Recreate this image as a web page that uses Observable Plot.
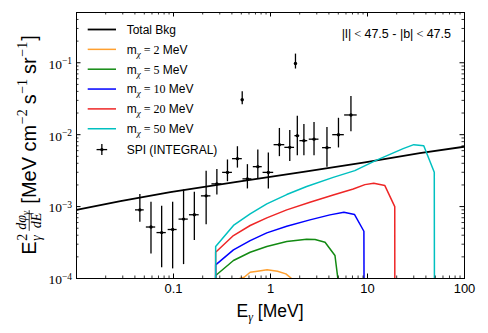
<!DOCTYPE html>
<html><head><meta charset="utf-8">
<script src="https://cdn.jsdelivr.net/npm/d3@7"></script>
<script src="https://cdn.jsdelivr.net/npm/@observablehq/plot@0.6"></script>
<style>
body{margin:0;background:#fff;}
#chart svg{display:block;}
</style>
</head><body><div id="chart"></div>
<script>
// ---------- data ----------
const bkgE = [0.01, 0.0284, 0.0927, 0.432, 2.27, 9.4, 34.6, 100];
const bkgF = [9.0e-4, 1.19e-3, 1.59e-3, 2.19e-3, 3.06e-3, 4.12e-3, 5.53e-3, 6.81e-3];

const m2E = [0.272, 0.433, 0.535, 0.617, 0.733, 0.923, 1.18, 1.44, 1.62, 1.70];
const m2F = [1e-7, 9.6e-5, 1.04e-4, 1.22e-4, 1.26e-4, 1.32e-4, 1.26e-4, 1.16e-4, 1.02e-4, 9.0e-5];

const m5E = [0.272, 0.272, 0.415, 0.617, 0.916, 1.47, 2.36, 2.88, 3.65, 4.62, 5.05];
const m5F = [1e-7, 1.1e-4, 1.78e-4, 2.32e-4, 2.78e-4, 3.26e-4, 3.52e-4, 3.48e-4, 3.19e-4, 2.09e-4, 8e-5];

const m10E = [0.272, 0.272, 0.415, 0.617, 0.916, 1.47, 2.55, 4.1, 5.71, 7.36, 9.18, 9.35];
const m10F = [1e-7, 1.55e-4, 2.5e-4, 3.37e-4, 4.31e-4, 5.33e-4, 6.53e-4, 7.67e-4, 8.34e-4, 7.74e-4, 4.54e-4, 1e-7];

const m20E = [0.272, 0.272, 0.415, 0.617, 0.916, 1.47, 2.55, 4.43, 7.13, 9.4, 11.6, 15.1, 19.1, 19.2];
const m20F = [1e-7, 2.32e-4, 3.96e-4, 5.46e-4, 6.97e-4, 9.0e-4, 1.15e-3, 1.45e-3, 1.76e-3, 2.02e-3, 2.11e-3, 1.96e-3, 1.0e-3, 1e-7];

const m50E = [0.272, 0.272, 0.415, 0.617, 0.916, 1.47, 2.36, 4.43, 7.4, 12.1, 23.3, 30.0, 38.0, 48.8, 49.3];
const m50F = [1e-7, 2.78e-4, 5.46e-4, 7.93e-4, 1.09e-3, 1.47e-3, 1.9e-3, 2.55e-3, 3.16e-3, 4.35e-3, 6.39e-3, 7.27e-3, 7.03e-3, 3.01e-3, 1e-7];

const spiE   = [0.045, 0.0586, 0.0755, 0.098, 0.127, 0.164, 0.217, 0.28, 0.36, 0.456, 0.511, 0.578, 0.74, 0.95, 1.235, 1.58, 1.809, 1.89, 2.21, 2.81, 3.82, 5.02, 6.75];
const spiElo = [0.0406, 0.0525, 0.0676, 0.0881, 0.114, 0.146, 0.194, 0.249, 0.321, 0.406, 0.5, 0.52, 0.665, 0.838, 1.089, 1.406, 1.78, 1.786, 2.01, 2.51, 3.44, 4.38, 5.81];
const spiEhi = [0.0499, 0.0655, 0.0843, 0.109, 0.142, 0.184, 0.243, 0.316, 0.405, 0.512, 0.522, 0.643, 0.822, 1.079, 1.403, 1.77, 1.84, 2.0, 2.42, 3.16, 4.24, 5.77, 7.83];
const spiF   = [9.0e-4, 5.2e-4, 4.35e-4, 4.8e-4, 6.7e-4, 7.7e-4, 1.41e-3, 2.07e-3, 2.99e-3, 4.64e-3, 0.0306, 2.43e-3, 3.59e-3, 2.99e-3, 7.26e-3, 6.66e-3, 0.0977, 9.69e-3, 8.26e-3, 8.66e-3, 6.6e-3, 0.01, 0.0188];
const spiFlo = [6.05e-4, 2.2e-4, 1.41e-4, 1.36e-4, 1.56e-4, 3.37e-4, 5.57e-4, 1.45e-3, 2.22e-3, 3.43e-3, 0.0261, 1.76e-3, 2.43e-3, 1.76e-3, 4.95e-3, 4.22e-3, 0.0818, 5.1e-3, 5.1e-3, 5.1e-3, 3.52e-3, 6.54e-3, 0.011];
const spiFhi = [1.47e-3, 1.15e-3, 1.01e-3, 1.15e-3, 1.7e-3, 1.58e-3, 3.09e-3, 3.27e-3, 4.45e-3, 6.8e-3, 0.0396, 3.83e-3, 6.13e-3, 5.57e-3, 0.0122, 0.0114, 0.132, 0.0181, 0.0138, 0.0148, 0.0126, 0.0169, 0.034];

const massLabels = ["2", "5", "10", "20", "50"];
const massColors = ["#ffa030", "#128a12", "#0000ff", "#ee2626", "#00c0c0"];

const xTickVals = [0.1, 1, 10, 100];
const xTickLabels = ["0.1", "1", "10", "100"];
const yTickVals = [1e-4, 1e-3, 1e-2, 1e-1];
const yTickExps = ["\u22124", "\u22123", "\u22122", "\u22121"];
const regionText = ["|l|", " < ", "47.5 - |b|", " < ", "47.5"];

// ---------- build rows ----------
const zip = (E, F) => E.map((e, i) => ({E: e, F: F[i]}));
const bkg = zip(bkgE, bkgF);
const dm = [zip(m2E, m2F), zip(m5E, m5F), zip(m10E, m10F), zip(m20E, m20F), zip(m50E, m50F)];
const spi = spiE.map((e, i) => ({E: e, Elo: spiElo[i], Ehi: spiEhi[i], F: spiF[i], Flo: spiFlo[i], Fhi: spiFhi[i]}));

const xMinor = [], yMinor = [];
for (let k = -2; k <= 1; k++) for (let m = 2; m <= 9; m++) xMinor.push(m * 10 ** k);
for (let k = -4; k <= -1; k++) for (let m = 2; m <= 9; m++) { const v = m * 10 ** k; if (v < 0.5) yMinor.push(v); }
const xMajor = [0.01, 0.1, 1, 10, 100];

const W = 488, H = 333, mt = 12, mr = 24, mb = 55, ml = 76;
const iw = W - ml - mr, ih = H - mt - mb;
const MAJ = 4.5, MIN = 2.5;

const chart = Plot.plot({
  width: W, height: H,
  marginTop: mt, marginRight: mr, marginBottom: mb, marginLeft: ml,
  style: {background: "#fff", color: "#000", fontFamily: "Liberation Sans", overflow: "visible"},
  x: {type: "log", domain: [0.01, 100], axis: null},
  y: {type: "log", domain: [1e-4, 0.5], axis: null},
  marks: [
    Plot.line(bkg, {x: "E", y: "F", stroke: "#000", strokeWidth: 1.8, clip: true}),
    ...dm.map((rows, i) => Plot.line(rows, {x: "E", y: "F", stroke: massColors[i], strokeWidth: 1.5, clip: true})),
    Plot.ruleX(spi, {x: "E", y1: "Flo", y2: "Fhi", stroke: "#000", strokeWidth: 1.3}),
    Plot.ruleY(spi, {y: "F", x1: "Elo", x2: "Ehi", stroke: "#000", strokeWidth: 1.3}),
    Plot.dot(spi, {x: "E", y: "F", r: 1.7, fill: "#000", stroke: "none"}),
    Plot.frame({stroke: "#000", strokeWidth: 1}),
    // inward ticks on all four sides
    Plot.tickX(xMajor, {x: d => d, insetTop: ih - MAJ, stroke: "#000", strokeWidth: 1}),
    Plot.tickX(xMajor, {x: d => d, insetBottom: ih - MAJ, stroke: "#000", strokeWidth: 1}),
    Plot.tickX(xMinor, {x: d => d, insetTop: ih - MIN, stroke: "#000", strokeWidth: 0.8}),
    Plot.tickX(xMinor, {x: d => d, insetBottom: ih - MIN, stroke: "#000", strokeWidth: 0.8}),
    Plot.tickY(yTickVals, {y: d => d, insetRight: iw - MAJ, stroke: "#000", strokeWidth: 1}),
    Plot.tickY(yTickVals, {y: d => d, insetLeft: iw - MAJ, stroke: "#000", strokeWidth: 1}),
    Plot.tickY(yMinor, {y: d => d, insetRight: iw - MIN, stroke: "#000", strokeWidth: 0.8}),
    Plot.tickY(yMinor, {y: d => d, insetLeft: iw - MIN, stroke: "#000", strokeWidth: 0.8}),
    Plot.axisX({anchor: "bottom", ticks: xTickVals, tickSize: 0, tickPadding: 5, label: null,
      tickFormat: d => xTickLabels[xTickVals.indexOf(d)], fontSize: 13, fontFamily: "Liberation Sans"}),
    Plot.axisY({anchor: "left", ticks: yTickVals, tickSize: 0, tickPadding: 4.5, label: null, dy: 1.5,
      tickFormat: d => yTickExps[yTickVals.indexOf(d)], fontSize: 13.5, fontFamily: "Liberation Serif"})
  ]
});
document.getElementById("chart").appendChild(chart);

const svg = d3.select(chart);
// y tick labels as 10^n
svg.selectAll('g[aria-label="y-axis tick label"] text').each(function () {
  const t = d3.select(this); const exp = t.text(); t.text("");
  t.append("tspan").text("10");
  t.append("tspan").attr("dy", "-0.5em").attr("font-size", "9.5px").text(exp);
});

const SANS = "Liberation Sans", SERIF = "Liberation Serif";

// x label
const xl = svg.append("text").attr("x", ml + iw / 2).attr("y", 316.5).attr("text-anchor", "middle")
  .attr("font-family", SANS).attr("font-size", 17.5).attr("fill", "#000");
xl.append("tspan").text("E");
xl.append("tspan").attr("font-family", SERIF).attr("font-style", "italic").attr("font-size", 12).attr("dy", 4).text("\u03b3");
xl.append("tspan").attr("dy", -4).text("\u00a0[MeV]");

// y label (rotated), laid out piece by piece
const yg = svg.append("g").attr("text-anchor", "start");
const inner = yg.append("g");
let u = 0;
function piece(str, x, y, font, size, italic) {
  const t = inner.append("text").attr("x", x).attr("y", y).attr("text-anchor", "start")
    .attr("font-family", font).attr("font-size", size).attr("fill", "#000").text(str);
  if (italic) t.attr("font-style", "italic");
  return t;
}
const len = t => t.node().getComputedTextLength();
const LS = 20, SS = 14;
u += len(piece("E", u, 0, SANS, LS));
const w2 = len(piece("2", u + 0.5, -8.5, SERIF, SS));
const wg = len(piece("\u03b3", u + 0.5, 5, SERIF, SS, true));
u += Math.max(w2, wg) + 3.5;
// fraction d phi_gamma / dE
const numStart = u;
let nw = len(piece("d\u03c6", u + 1, -9.5, SERIF, 14, true));
nw += len(piece("\u03b3", u + 1 + nw, -7, SERIF, 10, true));
const dT = piece("dE", u + 1, 5.5, SERIF, 14, true);
const dw = len(dT);
const fw = Math.max(nw, dw) + 2;
dT.attr("x", numStart + (fw - dw) / 2);
inner.append("line").attr("x1", numStart).attr("x2", numStart + fw).attr("y1", -6.3).attr("y2", -6.3).attr("stroke", "#000").attr("stroke-width", 0.8);
u += fw + 6.5;
u += len(piece("[MeV cm", u, 0, SANS, LS));
u += len(piece("\u22122", u + 0.5, -8.5, SERIF, SS)) + 5.5;
u += len(piece("s", u, 0, SANS, LS));
u += len(piece("\u22121", u + 0.5, -8.5, SERIF, SS)) + 5.5;
u += len(piece("sr", u, 0, SANS, LS));
u += len(piece("\u22121", u + 0.5, -8.5, SERIF, SS)) + 1.5;
u += len(piece("]", u, 0, SANS, LS));
inner.attr("transform", `translate(${-u / 2},0)`);
yg.attr("transform", `translate(35.5,${mt + ih / 2}) rotate(-90)`);

// region annotation
const rt = svg.append("text").attr("x", 451).attr("y", 37.8).attr("text-anchor", "end")
  .attr("font-family", SANS).attr("font-size", 12.5).attr("fill", "#000");
regionText.forEach(s => {
  const isMath = s.trim() === "<";
  rt.append("tspan").attr("font-family", isMath ? SERIF : SANS).text(isMath ? "\u00a0<\u00a0" : s);
});

// legend
const lg = svg.append("g").attr("text-anchor", "start");
const lx0 = 87.7, lx1 = 116, tx = 126.7, ly0 = 29.5, step = 19.85;
function legendText(y) {
  return lg.append("text").attr("x", tx).attr("y", y + 4.3).attr("text-anchor", "start")
    .attr("font-family", SANS).attr("font-size", 12).attr("fill", "#000");
}
lg.append("line").attr("x1", lx0).attr("x2", lx1).attr("y1", ly0).attr("y2", ly0).attr("stroke", "#000").attr("stroke-width", 1.8);
legendText(ly0).text("Total Bkg");
massLabels.forEach((m, i) => {
  const y = ly0 + step * (i + 1);
  lg.append("line").attr("x1", lx0).attr("x2", lx1).attr("y1", y).attr("y2", y).attr("stroke", massColors[i]).attr("stroke-width", 1.5);
  const t = legendText(y);
  t.append("tspan").text("m");
  t.append("tspan").attr("font-family", SERIF).attr("font-style", "italic").attr("font-size", 9).attr("dy", 3).text("\u03c7");
  t.append("tspan").attr("font-family", SERIF).attr("dy", -3).text("\u00a0=\u00a0" + m);
  t.append("tspan").text("\u00a0MeV");
});
{
  const y = ly0 + step * 6 + 1;
  const cx = (lx0 + lx1) / 2;
  lg.append("line").attr("x1", cx).attr("x2", cx).attr("y1", y - 5.5).attr("y2", y + 5.5).attr("stroke", "#000").attr("stroke-width", 1.3);
  lg.append("line").attr("x1", cx - 5.3).attr("x2", cx + 5.3).attr("y1", y).attr("y2", y).attr("stroke", "#000").attr("stroke-width", 1.3);
  lg.append("circle").attr("cx", cx).attr("cy", y).attr("r", 1.7).attr("fill", "#000");
  legendText(y).text("SPI (INTEGRAL)");
}
</script>
</body></html>
